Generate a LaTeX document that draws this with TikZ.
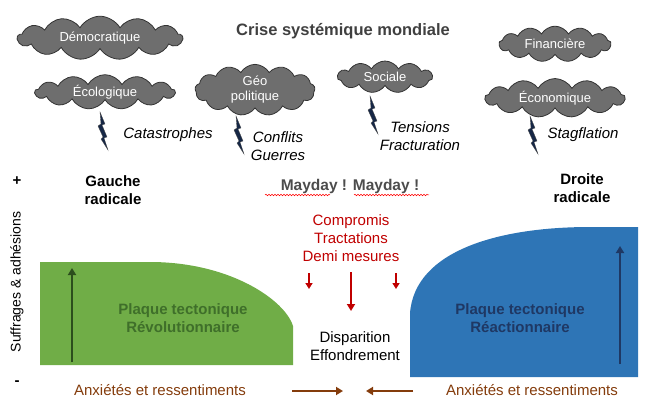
\documentclass[tikz,border=0pt]{standalone}
\usepackage{fontspec}
\setmainfont{Liberation Sans}
\usetikzlibrary{shapes.symbols,arrows.meta,decorations.pathmorphing}
\definecolor{cloudg}{HTML}{6E6E6E}
\definecolor{gr}{HTML}{70AD47}
\definecolor{dgr}{HTML}{3F6F2A}
\definecolor{bl}{HTML}{2E75B6}
\definecolor{nv}{HTML}{1F3864}
\definecolor{br}{HTML}{843C0C}
\definecolor{rd}{HTML}{C00000}
\begin{document}
\begin{tikzpicture}[x=1pt,y=-1pt,
  cl/.style={cloud,cloud puffs=13,cloud puff arc=120,aspect=4,fill=cloudg,draw=black!80,line width=0.8pt,text=white,font=\fontsize{13}{15}\selectfont,align=center,inner sep=0pt},
  it/.style={font=\itshape\fontsize{15}{18}\selectfont,align=center},
  bd/.style={font=\bfseries\fontsize{15}{18}\selectfont,align=center},
  nm/.style={font=\fontsize{15}{18}\selectfont,align=center},
  bolt/.style={fill=nv!70!black,draw=black!70,line width=0.3pt},
  ar/.style={-{Triangle[width=8pt,length=7pt]},line width=2pt}]
\useasboundingbox (0,0) rectangle (661,414);
\node[font=\bfseries\fontsize{16.5}{19}\selectfont,text=black!75] (title) at (343,31) {Crise systémique mondiale};
\node[cl,minimum width=165,minimum height=32] (dem) at (100,38) {Démocratique};
\node[cl,minimum width=140,minimum height=32] (eco) at (105,92) {Écologique};
\node[cl,minimum width=120,minimum height=46,aspect=2.6] (geo) at (255,90) {Géo\\politique};
\node[cl,minimum width=95,minimum height=32,aspect=3,cloud puffs=11] (soc) at (385,77) {Sociale};
\node[cl,minimum width=112,minimum height=30,aspect=3.5] (fin) at (555,44) {Financière};
\node[cl,minimum width=140,minimum height=32] (econ) at (555,98) {Économique};
\foreach \x/\y in {100/112,236/116,370/96,530/116}{
 \fill[bolt] (\x,\y) -- (\x+5,\y+12) -- (\x+2,\y+13) -- (\x+7,\y+25) -- (\x+4,\y+26) -- (\x+8,\y+38) -- (\x+1,\y+27) -- (\x+3,\y+25) -- (\x-2,\y+14) -- (\x+1,\y+12) -- cycle;}
\node[it] (cat) at (168,135) {Catastrophes};
\node[it] (conf) at (278,146) {Conflits\\Guerres};
\node[it] (tens) at (420,136) {Tensions\\Fracturation};
\node[it] (stag) at (583,135) {Stagflation};
\node[bd] (gauche) at (113,190) {Gauche\\radicale};
\node[bd] (droite) at (582,188) {Droite\\radicale};
\node[font=\bfseries\fontsize{15.5}{18}\selectfont,text=black!70] (may) at (350,186) {Mayday ! Mayday !};
\draw[red,line width=0.5pt,decorate,decoration={snake,amplitude=0.8pt,segment length=3pt}] (265,195) -- (330,195);
\draw[red,line width=0.5pt,decorate,decoration={snake,amplitude=0.8pt,segment length=3pt}] (354,195) -- (429,195);
\node[text=rd,font=\fontsize{15}{21}\selectfont,align=center] (comp) at (351,238) {Compromis\\[-3pt]Tractations\\[-3pt]Demi mesures};
\draw[-{Triangle[width=7pt,length=6pt]},rd,line width=1.5pt] (309,273) -- (309,289);
\draw[-{Triangle[width=8pt,length=7pt]},rd,line width=2pt] (351,272) -- (351,311);
\draw[-{Triangle[width=7pt,length=6pt]},rd,line width=1.5pt] (396,273) -- (396,289);
\fill[gr] (40,262) -- (150,262) .. controls (230,262) and (285,300) .. (293,326) -- (293,365) -- (40,365) -- cycle;
\draw[ar,dgr!70!black] (72,362) -- (72,268);
\node[bd,text=dgr] (rev) at (183,318) {Plaque tectonique\\Révolutionnaire};
\fill[bl] (410,377) -- (410,313) .. controls (415,250) and (500,227) .. (590,227) -- (638,227) -- (638,377) -- cycle;
\draw[ar,nv] (620,364) -- (620,246);
\node[bd,text=nv] (rea) at (520,318) {Plaque tectonique\\Réactionnaire};
\node[nm] (disp) at (355,346) {Disparition\\Effondrement};
\node[nm,text=br] (anx1) at (160,390) {Anxiétés et ressentiments};
\node[nm,text=br] (anx2) at (532,390) {Anxiétés et ressentiments};
\coordinate (m1) at (343,391); \coordinate (m2) at (366,391);
\draw[ar,br] (292,391) -- (m1);
\draw[ar,br] (413,391) -- (m2);
\node[font=\bfseries\fontsize{15}{18}\selectfont] (plus) at (17,181) {+};
\node[font=\bfseries\fontsize{15}{18}\selectfont] (minus) at (17,383) {-};
\node[rotate=90,font=\fontsize{14}{16}\selectfont] (suf) at (17,282) {Suffrages \& adhésions};
\end{tikzpicture}
\end{document}
